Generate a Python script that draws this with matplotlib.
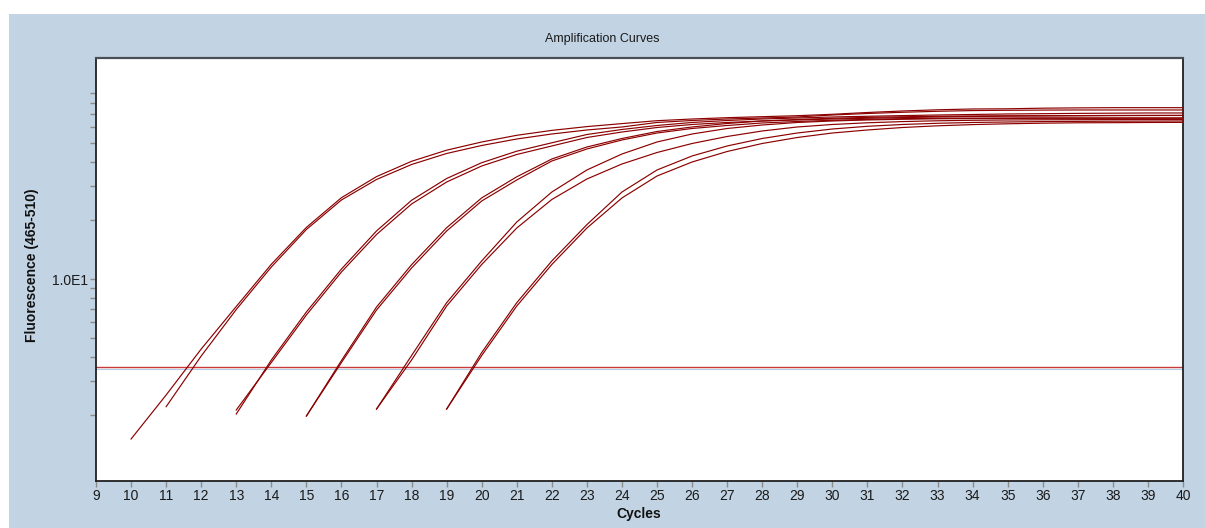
import matplotlib
matplotlib.use("Agg")
import matplotlib.pyplot as plt
from matplotlib.patches import Rectangle
from matplotlib.ticker import FixedLocator, FixedFormatter, NullFormatter

plt.rcParams['font.family'] = ['Liberation Sans', 'DejaVu Sans']

# ---- data (fluorescence per cycle, each curve starts at its first cycle) ----
title = "Amplification Curves"
x_label = "Cycles"
y_label = "Fluorescence (465-510)"
x_ticks = list(range(9, 41))
y_major_ticks = [10]
y_major_labels = ["1.0E1"]
y_minor_ticks = [2, 3, 4, 5, 6, 7, 8, 9, 20, 30, 40, 50, 60, 70, 80, 90]
threshold = 3.52

a1_start = 10
a1_values = [1.512, 2.542, 4.375, 7.228, 11.90, 18.39, 26.12, 33.50, 40.14, 45.77,
             50.42, 54.56, 57.82, 60.46, 62.64, 64.83, 66.14, 67.17, 67.97, 68.77,
             69.92, 71.42, 72.70, 73.74, 74.44, 74.61, 75.15, 75.41, 75.60, 75.60, 75.60]
a2_start = 11
a2_values = [2.214, 4.028, 6.975, 11.52, 17.94, 25.42, 32.38, 38.65, 44.02, 48.37,
             52.23, 55.41, 58.09, 60.19, 63.48, 64.98, 66.14, 66.92, 67.73, 69.34,
             70.58, 71.60, 72.44, 73.05, 73.30, 73.48, 73.57, 73.57, 73.57, 73.57]
b1_start = 13
b1_values = [2.031, 3.843, 6.774, 11.25, 17.63, 25.33, 32.76, 39.48, 45.23, 49.94,
             55.08, 58.44, 61.26, 63.48, 64.98, 66.14, 66.92, 67.73, 68.30, 68.85,
             69.34, 69.76, 70.18, 70.42, 70.67, 70.84, 71.01, 71.01]
b2_start = 13
b2_values = [2.129, 3.731, 6.538, 10.86, 16.91, 24.25, 31.43, 37.98, 43.50, 48.10,
             53.16, 56.72, 59.82, 61.99, 63.48, 64.61, 65.38, 66.14, 66.70, 67.26,
             67.73, 68.13, 68.38, 68.54, 68.70, 68.85, 68.95, 69.02]
c1_start = 15
c1_values = [1.983, 3.820, 7.184, 11.84, 18.32, 26.06, 33.43, 41.25, 47.52, 52.54,
             57.06, 60.19, 62.72, 64.61, 65.76, 66.70, 67.42, 67.90, 68.30, 68.54,
             68.70, 68.77, 68.85, 68.95, 68.95, 68.95]
c2_start = 15
c2_values = [1.983, 3.731, 6.934, 11.39, 17.63, 25.12, 32.19, 40.28, 46.42, 51.62,
             56.06, 59.13, 61.26, 63.10, 64.23, 65.14, 65.85, 66.39, 66.70, 66.84,
             66.92, 67.01, 67.01, 67.01, 67.01, 67.01]
d1_start = 17
d1_values = [2.154, 4.052, 7.560, 12.38, 19.60, 27.93, 36.23, 43.75, 50.42, 55.41,
             59.13, 61.61, 63.48, 64.61, 65.38, 65.92, 66.31, 66.47, 66.55, 66.70,
             66.70, 66.70, 66.70, 66.70]
d2_start = 17
d2_values = [2.154, 3.843, 7.269, 11.87, 18.26, 25.57, 32.57, 38.88, 44.53, 49.53,
             53.80, 57.41, 60.19, 61.99, 63.25, 64.15, 64.76, 65.14, 65.38, 65.53,
             65.61, 65.69, 65.76, 65.76]
e1_start = 19
e1_values = [2.154, 4.198, 7.560, 12.38, 19.01, 27.93, 36.23, 42.74, 48.10, 52.54,
             56.06, 58.77, 60.68, 61.99, 62.88, 63.48, 63.84, 64.15, 64.30, 64.45,
             64.53, 64.61]
e2_start = 19
e2_values = [2.154, 4.052, 7.269, 11.87, 18.26, 26.03, 33.74, 39.81, 45.06, 49.53,
             53.16, 56.06, 58.09, 59.82, 61.03, 61.90, 62.51, 62.95, 63.25, 63.33,
             63.48, 63.55]

curves = [(a1_start, a1_values), (a2_start, a2_values),
          (b1_start, b1_values), (b2_start, b2_values),
          (c1_start, c1_values), (c2_start, c2_values),
          (d1_start, d1_values), (d2_start, d2_values),
          (e1_start, e1_values), (e2_start, e2_values)]

# ---- figure ----
W, H = 1205, 528
fig = plt.figure(figsize=(W / 100, H / 100), dpi=100, facecolor='white')
panel_blue = '#C2D4E4'
fig.patches.append(Rectangle((9 / W, 0), 1 - 9 / W, 1 - 14 / H,
                             transform=fig.transFigure, facecolor=panel_blue,
                             edgecolor='none', zorder=-10))

left, right, top, bottom = 96, 1183, 58, 481
ax = fig.add_axes([left / W, (H - bottom) / H, (right - left) / W, (bottom - top) / H])
ax.set_facecolor('white')

curve_color = '#8B0000'
for start, vals in curves:
    xs = list(range(start, start + len(vals)))
    ax.plot(xs, vals, color=curve_color, lw=0.85, solid_joinstyle='round', zorder=3)

ax.axhline(threshold * 0.978, color='#B4CDE3', lw=0.8, zorder=2)
ax.axhline(threshold, color='#C93A3A', lw=1.0, zorder=2.5)

ax.set_yscale('log')
ax.set_xlim(9, 40)
ax.set_ylim(0.921, 135.9)

ax.xaxis.set_major_locator(FixedLocator(x_ticks))
ax.set_xticklabels([str(t) for t in x_ticks])
ax.yaxis.set_major_locator(FixedLocator(y_major_ticks))
ax.yaxis.set_major_formatter(FixedFormatter(y_major_labels))
ax.yaxis.set_minor_locator(FixedLocator(y_minor_ticks))
ax.yaxis.set_minor_formatter(NullFormatter())
ax.xaxis.set_minor_locator(FixedLocator([]))

ax.tick_params(axis='x', which='major', direction='out', length=4, width=1,
               color='#8C8C8C', labelsize=10, pad=2, labelcolor='#1A1A1A')
ax.tick_params(axis='y', which='both', direction='out', length=4.5, width=1,
               color='#8C8C8C', labelsize=10, pad=1, labelcolor='#1A1A1A')

for side in ['left', 'bottom', 'right']:
    ax.spines[side].set_color('#202020')
    ax.spines[side].set_linewidth(1.3)
ax.spines['top'].set_color('#4A4F55')
ax.spines['top'].set_linewidth(1.6)

fig.text(602 / W, 1 - 39 / H, title, ha='center', va='center', fontsize=9, color='#1A1A1A')
fig.text(639 / W, 1 - 514 / H, x_label, ha='center', va='center', fontsize=10,
         fontweight='bold', color='#111111')
fig.text(32 / W, 1 - 265 / H, y_label, ha='center', va='center', fontsize=10,
         fontweight='bold', rotation=90, color='#111111')

fig.savefig('out.png', dpi=100, facecolor=fig.get_facecolor())
